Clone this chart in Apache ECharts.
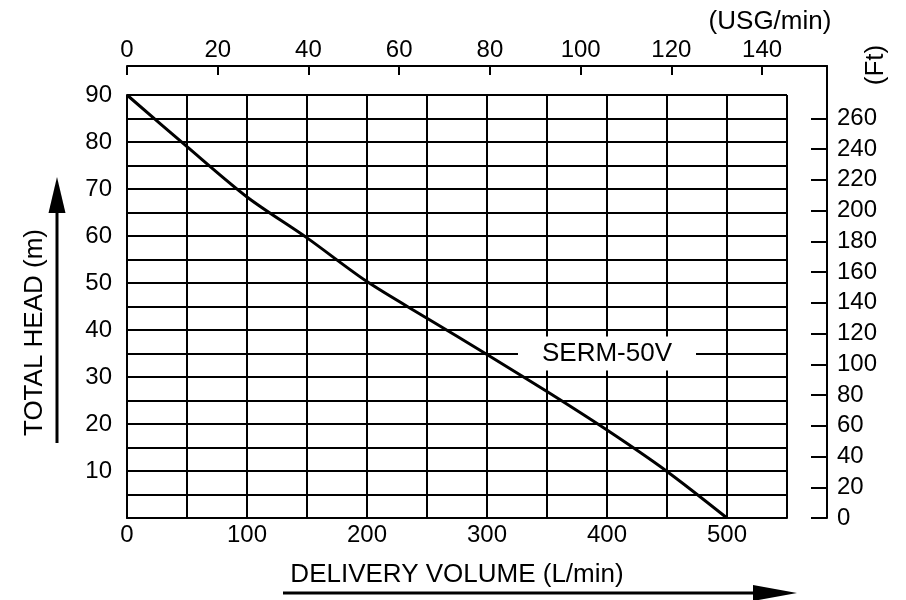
<!DOCTYPE html>
<html>
<head>
<meta charset="utf-8">
<script src="https://cdn.jsdelivr.net/npm/echarts@6/dist/echarts.min.js"></script>
<style>
  html, body { margin: 0; padding: 0; background: #fff; }
  #chart { width: 906px; height: 600px; }
</style>
</head>
<body>
<div id="chart"></div>
<script>
// 流量 (L/min) 和 扬程 (m)
const flowLpm = [0, 50, 100, 150, 200, 250, 300, 350, 400, 450, 500];
const headM = [90, 79, 68.3, 59.6, 50.3, 42.5, 34.8, 26.9, 18.7, 9.9, 0];

// 曲线标签的位置
const modelName = 'SERM-50V';
const modelLabelAt = [400, 35];

// 副坐标的刻度
const usgTicks = [0, 20, 40, 60, 80, 100, 120, 140];
const ftTicks = [0, 20, 40, 60, 80, 100, 120, 140, 160, 180, 200, 220, 240, 260];

const FONT = '"Liberation Sans", Arial, Helvetica, sans-serif';
const black = '#000';

let chart = echarts.init(document.getElementById('chart'));

let options = {
  animation: false,
  backgroundColor: '#fff',
  textStyle: { fontFamily: FONT, color: black },
  grid: [
    // 主图
    { left: 127, right: 119, top: 95, bottom: 82, outerBoundsMode: 'none' },
    // 上方 USG 和右侧 Ft 坐标
    { left: 127, right: 79, top: 66, bottom: 82, outerBoundsMode: 'none' }
  ],
  xAxis: [
    {
      type: 'value', gridIndex: 0, position: 'bottom',
      min: 0, max: 550, interval: 50,
      name: 'DELIVERY VOLUME (L/min)',
      nameLocation: 'middle', nameGap: 44,
      nameTextStyle: { fontSize: 26, color: black, fontFamily: FONT },
      axisLine: { onZero: false, lineStyle: { color: black, width: 2 } },
      axisTick: { show: false },
      axisLabel: {
        fontSize: 24, color: black, margin: 5, fontFamily: FONT,
        formatter: v => (v % 100 === 0 && v <= 500) ? String(v) : ''
      },
      splitLine: { show: true, lineStyle: { color: black, width: 2 } }
    },
    {
      type: 'value', gridIndex: 1, position: 'top',
      min: 0, max: 154.3,
      axisLine: { onZero: false, lineStyle: { color: black, width: 2 } },
      axisTick: { inside: true, length: 9, lineStyle: { color: black, width: 2 }, customValues: usgTicks },
      axisLabel: { fontSize: 24, color: black, margin: 4, fontFamily: FONT, customValues: usgTicks },
      splitLine: { show: false }
    }
  ],
  yAxis: [
    {
      type: 'value', gridIndex: 0, position: 'left',
      min: 0, max: 90, interval: 5,
      name: 'TOTAL HEAD (m)',
      nameLocation: 'middle', nameGap: 79, nameRotate: 90,
      nameTextStyle: { fontSize: 26, color: black, fontFamily: FONT, padding: [0, 52, 0, 0] },
      axisLine: { show: true, onZero: false, lineStyle: { color: black, width: 2 } },
      axisTick: { show: false },
      axisLabel: {
        fontSize: 24, color: black, margin: 15, fontFamily: FONT,
        formatter: v => (v % 10 === 0 && v > 0) ? String(v) : ''
      },
      splitLine: { show: true, lineStyle: { color: black, width: 2 } }
    },
    {
      type: 'value', gridIndex: 1, position: 'right',
      min: 0, max: 294,
      axisLine: { show: true, onZero: false, lineStyle: { color: black, width: 2 } },
      axisTick: { show: true, inside: true, length: 16, lineStyle: { color: black, width: 2 }, customValues: ftTicks },
      axisLabel: { fontSize: 24, color: black, margin: 10, fontFamily: FONT, customValues: ftTicks },
      splitLine: { show: false }
    }
  ],
  series: [
    {
      name: modelName,
      type: 'line',
      xAxisIndex: 0, yAxisIndex: 0,
      data: flowLpm.map((q, i) => [q, headM[i]]),
      smooth: 0.3,
      showSymbol: false,
      lineStyle: { color: black, width: 3 },
      z: 5
    },
    {
      name: 'label',
      type: 'scatter',
      xAxisIndex: 0, yAxisIndex: 0,
      data: [modelLabelAt],
      symbolSize: 1,
      itemStyle: { color: 'rgba(0,0,0,0)', opacity: 1 },
      label: {
        show: true, position: 'inside',
        formatter: modelName,
        fontSize: 26, color: black, opacity: 1, fontFamily: FONT,
        backgroundColor: '#fff', padding: [4, 24]
      },
      z: 6
    }
  ],
  // 坐标轴方向的箭头和单位
  graphic: [
    { type: 'line', shape: { x1: 57, y1: 443, x2: 57, y2: 205 }, style: { stroke: black, lineWidth: 3 } },
    { type: 'polygon', shape: { points: [[57, 177], [48.5, 213], [65.5, 213]] }, style: { fill: black } },
    { type: 'line', shape: { x1: 283, y1: 593, x2: 760, y2: 593 }, style: { stroke: black, lineWidth: 3 } },
    { type: 'polygon', shape: { points: [[797, 593], [753, 585], [753, 601]] }, style: { fill: black } },
    {
      type: 'text', x: 770, y: 22,
      style: { text: '(USG/min)', font: '26px ' + FONT, fill: black, align: 'center', verticalAlign: 'middle' }
    },
    {
      type: 'text', x: 876, y: 65, rotation: Math.PI / 2,
      style: { text: '(Ft)', font: '26px ' + FONT, fill: black, align: 'center', verticalAlign: 'middle' }
    }
  ]
};

chart.setOption(options);
</script>
</body>
</html>
